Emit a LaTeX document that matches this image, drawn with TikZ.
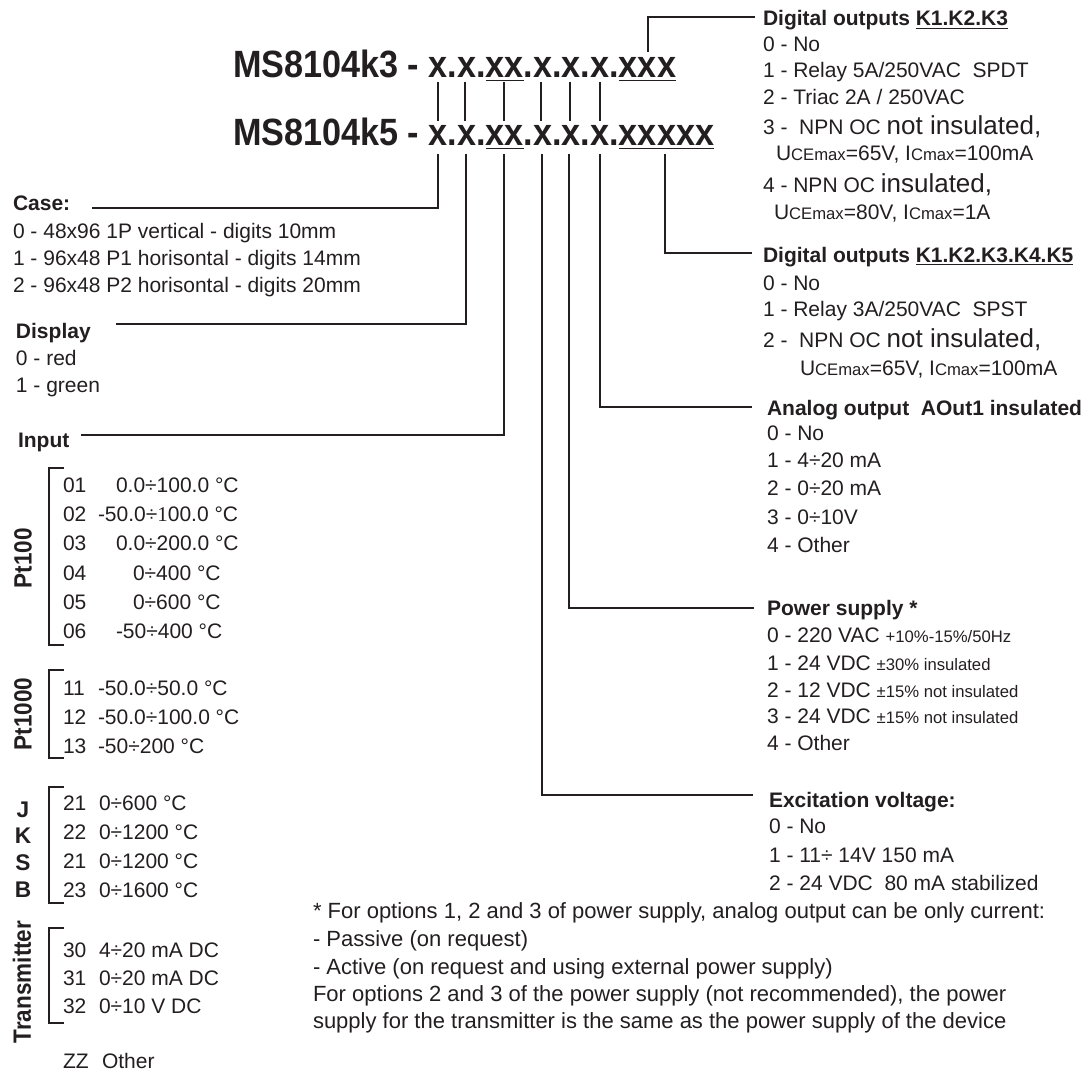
\documentclass[tikz,border=0pt]{standalone}
\usepackage{fontspec}
\setmainfont{Liberation Sans}
\newfontfamily\serifface{Liberation Serif}
\definecolor{ink}{RGB}{35,31,32}
\newsavebox\ulbox
\newcommand\myul[2]{\sbox\ulbox{#2}\rlap{\rule[-2.6pt]{\wd\ulbox}{#1}}\usebox\ulbox}
\newcommand\smtx[1]{{\fontsize{12.5pt}{14pt}\selectfont #1}}
\newcommand\bigtx[1]{{\fontsize{19.5pt}{22pt}\selectfont #1}}
\newcommand\ulk[1]{\myul{0.9pt}{#1}}
\newcommand\ulc[1]{\myul{1.3pt}{#1}}
\newcommand\narrow[1]{\scalebox{0.9}[1]{#1}}
\begin{document}
\begin{tikzpicture}[x=0.75pt,y=-0.75pt,
 txt/.style={anchor=base west,inner sep=0pt,outer sep=0pt,text=ink,font=\fontsize{15.75pt}{18pt}\selectfont},
 hdr/.style={txt,font=\fontsize{15.75pt}{18pt}\selectfont\bfseries},
 code/.style={txt,font=\fontsize{28.5pt}{32pt}\selectfont\bfseries},
 side/.style={anchor=center,inner sep=0pt,text=ink,rotate=90,font=\fontsize{18.75pt}{20pt}\selectfont\bfseries},
 letter/.style={anchor=base,inner sep=0pt,text=ink,font=\fontsize{17pt}{18pt}\selectfont\bfseries},
 conn/.style={draw=ink,line width=1pt},
 bracketline/.style={draw=ink,line width=2pt},
 note/.style={txt,font=\fontsize{16.5pt}{19pt}\selectfont}]
\fill[white] (0,0) rectangle (1089,1081);
\useasboundingbox (0,0) rectangle (1089,1081);

% ---------- order codes ----------
\node[code] (h1) at (233,78) {\narrow{MS8104k3 - x.x.\ulc{xx}.x.x.x.\ulc{xxx}}};
\node[code] (h2) at (233,146) {\narrow{MS8104k5 - x.x.\ulc{xx}.x.x.x.\ulc{xxxxx}}};

\foreach \n/\x/\w in {a/438/2pt,b/465/2pt,c/504/1pt,d/541/1pt,e/570/1pt,f/600/1pt}{
  \coordinate (u\n) at (\x,82);
  \coordinate (l\n) at (\x,121);
  \draw[draw=ink,line width=\w] (u\n) -- (l\n);
}

% ---------- left column ----------
\node[hdr] (caseh) at (13,210) {Case:};
\node[txt] (case0) at (13,238) {0 - 48x96 1P vertical - digits 10mm};
\node[txt] (case1) at (13,265) {1 - 96x48 P1 horisontal - digits 14mm};
\node[txt] (case2) at (13,292) {2 - 96x48 P2 horisontal - digits 20mm};

\node[hdr] (disph) at (16,338) {Display};
\node[txt] (disp0) at (16,365) {0 - red};
\node[txt] (disp1) at (16,392) {1 - green};

\node[hdr] (inh) at (18,447) {Input};

% Pt100
\draw[bracketline] (64,468) -- (49,468) -- (49,645) -- (64,645);
\node[side] (pt100) at (23,558) {\narrow{Pt100}};
\node[txt] (c01) at (63,492) {01};  \node[txt] (v01) at (116,492) {0.0÷100.0 °C};
\node[txt] (c02) at (63,521) {02};  \node[txt] (v02) at (98,521) {-50.0÷{\serifface 1}00.0 °C};
\node[txt] (c03) at (63,550) {03};  \node[txt] (v03) at (116,550) {0.0÷200.0 °C};
\node[txt] (c04) at (63,580) {04};  \node[txt] (v04) at (133,580) {0÷400 °C};
\node[txt] (c05) at (63,609) {05};  \node[txt] (v05) at (133,609) {0÷600 °C};
\node[txt] (c06) at (63,638) {06};  \node[txt] (v06) at (116,638) {-50÷400 °C};

% Pt1000
\draw[bracketline] (64,670) -- (49,670) -- (49,758) -- (64,758);
\node[side] (pt1000) at (23,714) {\narrow{Pt1000}};
\node[txt] (c11) at (63,695) {11};  \node[txt] (v11) at (98,695) {-50.0÷50.0 °C};
\node[txt] (c12) at (63,724) {12};  \node[txt] (v12) at (98,724) {-50.0÷100.0 °C};
\node[txt] (c13) at (63,753) {13};  \node[txt] (v13) at (98,753) {-50÷200 °C};

% Thermocouples
\draw[bracketline] (64,787) -- (49,787) -- (49,903) -- (64,903);
\node[letter] (tJ) at (23,817) {J};
\node[letter] (tK) at (23,843) {K};
\node[letter] (tS) at (23,870) {S};
\node[letter] (tB) at (23,897) {B};
\node[txt] (c21) at (63,810) {21};  \node[txt] (v21) at (99,810) {0÷600 °C};
\node[txt] (c22) at (63,839) {22};  \node[txt] (v22) at (99,839) {0÷1200 °C};
\node[txt] (c21b) at (63,868) {21}; \node[txt] (v21b) at (99,868) {0÷1200 °C};
\node[txt] (c23) at (63,897) {23};  \node[txt] (v23) at (99,897) {0÷1600 °C};

% Transmitter
\draw[bracketline] (64,928) -- (49,928) -- (49,1023) -- (64,1023);
\node[side] (trans) at (22,982) {\narrow{Transmitter}};
\node[txt] (c30) at (63,957) {30};  \node[txt] (v30) at (99,957) {4÷20 mA DC};
\node[txt] (c31) at (63,985) {31};  \node[txt] (v31) at (99,985) {0÷20 mA DC};
\node[txt] (c32) at (63,1013) {32}; \node[txt] (v32) at (99,1013) {0÷10 V DC};
\node[txt] (czz) at (63,1068) {ZZ};  \node[txt] (vzz) at (102,1068) {Other};

% ---------- right column ----------
\node[hdr] (k3h) at (763,26) {Digital outputs \ulk{K1.K2.K3}};
\node[txt] (k30) at (763,52) {0 - No};
\node[txt] (k31) at (763,78) {1 - Relay 5A/250VAC\ \ SPDT};
\node[txt] (k32) at (763,104) {2 - Triac 2A / 250VAC};
\node[txt] (k33) at (763,134) {3 -\ \ NPN OC \bigtx{not insulated,}};
\node[txt] (k33b) at (776,161) {U\smtx{CEmax}=65V, I\smtx{Cmax}=100mA};
\node[txt] (k34) at (763,192) {4 - NPN OC \bigtx{insulated,}};
\node[txt] (k34b) at (774,219) {U\smtx{CEmax}=80V, I\smtx{Cmax}=1A};

\node[hdr] (k5h) at (763,262) {Digital outputs \ulk{K1.K2.K3.K4.K5}};
\node[txt] (k50) at (763,290) {0 - No};
\node[txt] (k51) at (763,316) {1 - Relay 3A/250VAC\ \ SPST};
\node[txt] (k52) at (763,347) {2 -\ \ NPN OC \bigtx{not insulated,}};
\node[txt] (k52b) at (800,375) {U\smtx{CEmax}=65V, I\smtx{Cmax}=100mA};

\node[hdr] (aoh) at (767,415) {Analog output\ \ AOut1 insulated};
\node[txt] (ao0) at (767,440) {0 - No};
\node[txt] (ao1) at (767,467) {1 - 4÷20 mA};
\node[txt] (ao2) at (767,495) {2 - 0÷20 mA};
\node[txt] (ao3) at (767,524) {3 - 0÷10V};
\node[txt] (ao4) at (767,552) {4 - Other};

\node[hdr] (psh) at (767,615) {Power supply *};
\node[txt] (ps0) at (767,642) {0 - 220 VAC \smtx{+10\%-15\%/50Hz}};
\node[txt] (ps1) at (767,670) {1 - 24 VDC \smtx{±30\% insulated}};
\node[txt] (ps2) at (767,697) {2 - 12 VDC \smtx{±15\% not insulated}};
\node[txt] (ps3) at (767,723) {3 - 24 VDC \smtx{±15\% not insulated}};
\node[txt] (ps4) at (767,750) {4 - Other};

\node[hdr] (exh) at (769,807) {Excitation voltage:};
\node[txt] (ex0) at (769,833) {0 - No};
\node[txt] (ex1) at (769,862) {1 - 11÷ 14V 150 mA};
\node[txt] (ex2) at (769,890) {2 - 24 VDC\ \ 80 mA stabilized};

% ---------- footnote ----------
\node[note] (fn1) at (313,918) {* For options 1, 2 and 3 of power supply, analog output can be only current:};
\node[note] (fn2) at (313,946) {- Passive (on request)};
\node[note] (fn3) at (313,974) {- Active (on request and using external power supply)};
\node[note] (fn4) at (313,1001) {For options 2 and 3 of the power supply (not recommended), the power};
\node[note] (fn5) at (313,1028) {supply for the transmitter is the same as the power supply of the device};

% ---------- connectors ----------
\coordinate (sCase) at (438,154);  \coordinate (eCase) at (92,208);
\coordinate (sDisp) at (466,154);  \coordinate (eDisp) at (116,324);
\coordinate (sIn)   at (504,154);  \coordinate (eIn)   at (81,435);
\coordinate (sEx)   at (542,154);  \coordinate (eEx)   at (753,795);
\coordinate (sPs)   at (569,154);  \coordinate (ePs)   at (754,608);
\coordinate (sAo)   at (600,154);  \coordinate (eAo)   at (752,407);
\coordinate (sK5)   at (665,154);  \coordinate (eK5)   at (752,253);
\coordinate (sK3)   at (648,52);   \coordinate (eK3)   at (755,17);
\draw[conn] (sCase) |- (eCase);
\draw[conn] (sDisp) |- (eDisp);
\draw[conn] (sIn) |- (eIn);
\draw[conn] (sEx) |- (eEx);
\draw[conn] (sPs) |- (ePs);
\draw[conn] (sAo) |- (eAo);
\draw[conn] (sK5) |- (eK5);
\draw[conn] (sK3) |- (eK3);
\end{tikzpicture}
\end{document}
